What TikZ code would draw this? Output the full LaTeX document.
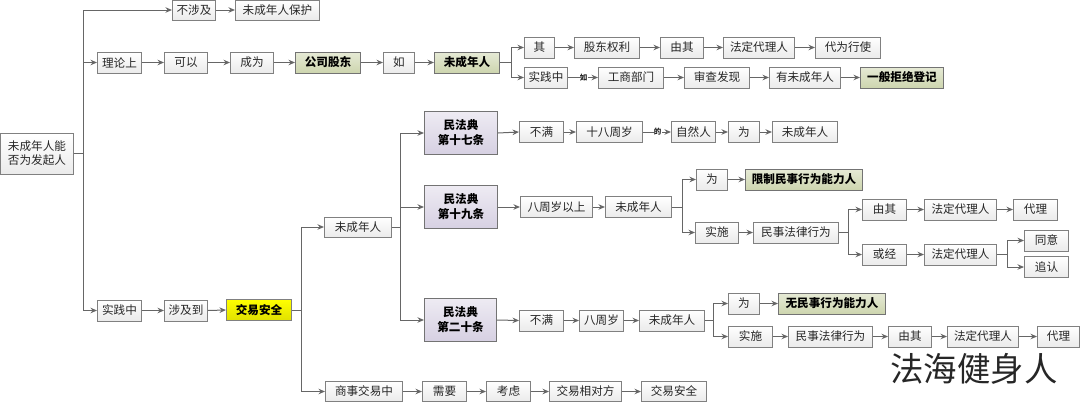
\documentclass[tikz,border=0pt]{standalone}
\usepackage{fontspec}
\setmainfont{Noto Sans CJK SC}
\usetikzlibrary{arrows.meta}

\definecolor{linegray}{HTML}{666666}
\definecolor{edgegray}{HTML}{808080}
\definecolor{textgray}{HTML}{262626}
\definecolor{keytop}{HTML}{E6EAD6}
\definecolor{keybottom}{HTML}{CDD5AE}
\definecolor{lawtop}{HTML}{EEEBF3}
\definecolor{lawbottom}{HTML}{D6D0E2}

\tikzset{
	plain/.style={draw=edgegray,line width=1pt,top color=white,bottom color=black!8,text=textgray,
		inner sep=0pt,minimum height=21,font=\fontsize{11.6}{14}\selectfont,align=center},
	keyterm/.style={plain,top color=keytop,bottom color=keybottom,draw=black!55,text=black,
		font=\fontsize{11.6}{14}\selectfont\bfseries},
	lawterm/.style={plain,top color=lawtop,bottom color=lawbottom,draw=black!55,text=black,minimum height=43,
		font=\fontsize{11.6}{15}\selectfont\bfseries},
	safeterm/.style={plain,top color=yellow,bottom color=yellow!88!black,draw=black!50,text=black,
		font=\fontsize{11.6}{14}\selectfont\bfseries},
	arr/.style={draw=linegray,line width=1pt,-{Stealth[length=6.5pt,width=5.5pt]}},
	edgeword/.style={fill=white,inner sep=0.2pt,text=textgray,font=\fontsize{7.5}{8}\selectfont\bfseries}
}

\begin{document}
\begin{tikzpicture}[x=1pt,y=-1pt]
\useasboundingbox (-0.5,0) rectangle (1079.5,402);

% left part
\node[plain,minimum width=72,minimum height=41] (root) at (36.5,153.5) {未成年人能\\否为发起人};
\node[plain,minimum width=43,minimum height=20] (nosee) at (193.5,10) {不涉及};
\node[plain,minimum width=84,minimum height=20] (protect) at (277,10) {未成年人保护};

% theory row
\node[plain,minimum width=44] (theory) at (119,62.5) {理论上};
\node[plain,minimum width=43] (can) at (185.5,62.5) {可以};
\node[plain,minimum width=43] (become) at (251.5,62.5) {成为};
\node[keyterm,minimum width=65] (holder) at (327.5,62.5) {公司股东};
\node[plain,minimum width=31] (ifminor) at (398.5,62.5) {如};
\node[keyterm,minimum width=65] (minorA) at (466.5,62.5) {未成年人};
\node[plain,minimum width=30] (its) at (539,47.5) {其};
\node[plain,minimum width=65] (rights) at (606.5,47.5) {股东权利};
\node[plain,minimum width=43] (byits) at (681.5,47.5) {由其};
\node[plain,minimum width=71] (agentA) at (758.5,47.5) {法定代理人};
\node[plain,minimum width=65] (exercise) at (847.5,47.5) {代为行使};
\node[plain,minimum width=43] (inpractice) at (545.5,77.5) {实践中};
\node[plain,minimum width=65] (bureau) at (630.5,77.5) {工商部门};
\node[plain,minimum width=65] (review) at (716.5,77.5) {审查发现};
\node[plain,minimum width=71] (hasminor) at (804.5,77.5) {有未成年人};
\node[keyterm,minimum width=83] (refuse) at (901.5,77.5) {一般拒绝登记};

% practice row
\node[plain,minimum width=44] (practice) at (119,310.5) {实践中};
\node[plain,minimum width=43] (involve) at (185.5,310.5) {涉及到};
\node[safeterm,minimum width=65] (safety) at (258.5,310) {交易安全};
\node[plain,minimum width=67,minimum height=20] (minorB) at (357.5,227) {未成年人};
\node[plain,minimum width=77,minimum height=20] (trade) at (363.5,391.5) {商事交易中};
\node[plain,minimum width=44,minimum height=20] (need) at (444,391.5) {需要};
\node[plain,minimum width=44,minimum height=20] (consider) at (508,391.5) {考虑};
\node[plain,minimum width=72,minimum height=20] (other) at (585,391.5) {交易相对方};
\node[plain,minimum width=65,minimum height=20] (safetyB) at (673.5,391.5) {交易安全};

% article 17
\node[lawterm,minimum width=73] (lawA) at (460.5,133) {民法典\\第十七条};
\node[plain,minimum width=44] (lessA) at (541,132) {不满};
\node[plain,minimum width=66] (eighteen) at (609,132) {十八周岁};
\node[plain,minimum width=44] (person) at (693,132) {自然人};
\node[plain,minimum width=31] (isA) at (743.5,132) {为};
\node[plain,minimum width=65] (minorC) at (804.5,132) {未成年人};

% article 19
\node[lawterm,minimum width=73] (lawB) at (460.5,207) {民法典\\第十九条};
\node[plain,minimum width=72] (eightup) at (556,207) {八周岁以上};
\node[plain,minimum width=66] (minorD) at (638,207) {未成年人};
\node[plain,minimum width=31] (isB) at (711.5,179.5) {为};
\node[keyterm,minimum width=117] (limited) at (803.5,179.5) {限制民事行为能力人};
\node[plain,minimum width=43] (doB) at (716.5,232.5) {实施};
\node[plain,minimum width=85] (actB) at (795.5,232.5) {民事法律行为};
\node[plain,minimum width=44] (byitsB) at (884,209.5) {由其};
\node[plain,minimum width=72] (agentB) at (960,209.5) {法定代理人};
\node[plain,minimum width=44] (proxyB) at (1035,209.5) {代理};
\node[plain,minimum width=44] (orby) at (884,254.5) {或经};
\node[plain,minimum width=72] (agentC) at (960,254.5) {法定代理人};
\node[plain,minimum width=44] (agree) at (1046,240.5) {同意};
\node[plain,minimum width=44] (ratify) at (1046,267) {追认};

% article 20
\node[lawterm,minimum width=72] (lawC) at (460,320) {民法典\\第二十条};
\node[plain,minimum width=44] (lessC) at (541,320.5) {不满};
\node[plain,minimum width=44] (eight) at (601,320.5) {八周岁};
\node[plain,minimum width=65] (minorE) at (671.5,320.5) {未成年人};
\node[plain,minimum width=31] (isC) at (743.5,303.5) {为};
\node[keyterm,minimum width=107] (nocap) at (831.5,303.5) {无民事行为能力人};
\node[plain,minimum width=44] (doC) at (750,336.5) {实施};
\node[plain,minimum width=84] (actC) at (830,336.5) {民事法律行为};
\node[plain,minimum width=43] (byitsC) at (909.5,336.5) {由其};
\node[plain,minimum width=71] (agentD) at (982.5,336.5) {法定代理人};
\node[plain,minimum width=42] (proxyC) at (1058,336.5) {代理};

\node[inner sep=0pt,text=textgray,font=\fontsize{33.4}{36}\selectfont] (mark) at (973.5,369) {法海健身人};

% forks
\coordinate (forkroot) at (83,153.5);
\coordinate (forkminorA) at (511,62.5);
\coordinate (forksafety) at (301,310);
\coordinate (forkminorB) at (400,227);
\coordinate (forkminorD) at (682,207);
\coordinate (forkactB) at (848,232.5);
\coordinate (forkagentC) at (1007,254.5);
\coordinate (forkminorE) at (713,320.5);

\draw[arr] (root.east) -- (forkroot) |- (nosee.west);
\draw[arr] (forkroot) |- (theory.west);
\draw[arr] (forkroot) |- (practice.west);
\draw[arr] (minorA.east) -- (forkminorA) |- (its.west);
\draw[arr] (forkminorA) |- (inpractice.west);
\draw[arr] (safety.east) -- (forksafety) |- (minorB.west);
\draw[arr] (forksafety) |- (trade.west);
\draw[arr] (minorB.east) -- (forkminorB) |- (lawA.west);
\draw[arr] (forkminorB) |- (lawB.west);
\draw[arr] (forkminorB) |- (lawC.west);
\draw[arr] (minorD.east) -- (forkminorD) |- (isB.west);
\draw[arr] (forkminorD) |- (doB.west);
\draw[arr] (actB.east) -- (forkactB) |- (byitsB.west);
\draw[arr] (forkactB) |- (orby.west);
\draw[arr] (agentC.east) -- (forkagentC) |- (agree.west);
\draw[arr] (forkagentC) |- (ratify.west);
\draw[arr] (minorE.east) -- (forkminorE) |- (isC.west);
\draw[arr] (forkminorE) |- (doC.west);

\foreach \from/\to in {nosee/protect,theory/can,can/become,become/holder,holder/ifminor,ifminor/minorA,
	its/rights,rights/byits,byits/agentA,agentA/exercise,bureau/review,review/hasminor,hasminor/refuse,
	practice/involve,involve/safety,trade/need,need/consider,consider/other,other/safetyB,
	lawA/lessA,lessA/eighteen,person/isA,isA/minorC,
	lawB/eightup,eightup/minorD,isB/limited,doB/actB,byitsB/agentB,agentB/proxyB,orby/agentC,
	lawC/lessC,lessC/eight,eight/minorE,isC/nocap,doC/actC,actC/byitsC,byitsC/agentD,agentD/proxyC}
	\draw[arr] (\from.east) -- (\to.west);

\draw[arr] (inpractice.east) -- node[edgeword,pos=.52] {如} (bureau.west);
\draw[arr] (eighteen.east) -- node[edgeword,pos=.52] {的} (person.west);
\end{tikzpicture}
\end{document}
